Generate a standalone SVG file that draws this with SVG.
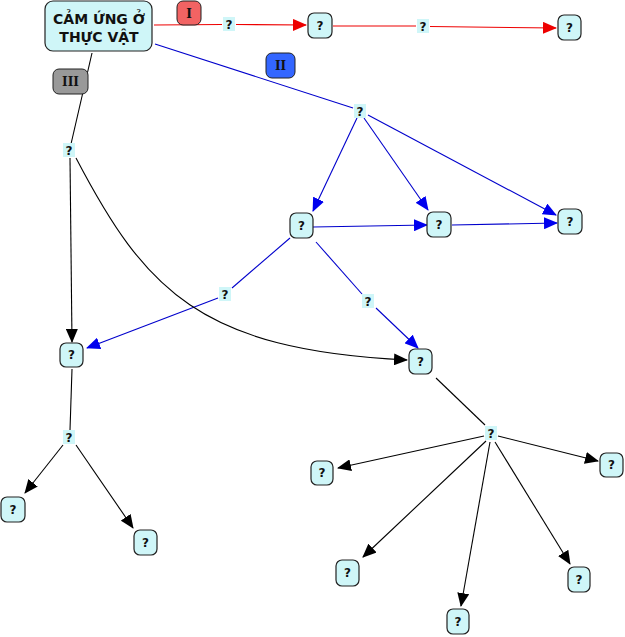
<svg xmlns="http://www.w3.org/2000/svg" width="625" height="637" viewBox="0 0 625 637">
<defs>
<marker id="ak" markerUnits="userSpaceOnUse" markerWidth="14" markerHeight="12" viewBox="0 0 14 12" refX="13" refY="6" orient="auto"><path d="M0,0 L14,6 L0,12 z" fill="#000"/></marker>
<marker id="ab" markerUnits="userSpaceOnUse" markerWidth="14" markerHeight="12" viewBox="0 0 14 12" refX="13" refY="6" orient="auto"><path d="M0,0 L14,6 L0,12 z" fill="#0000ee"/></marker>
<marker id="ar" markerUnits="userSpaceOnUse" markerWidth="14" markerHeight="12" viewBox="0 0 14 12" refX="13" refY="6" orient="auto"><path d="M0,0 L14,6 L0,12 z" fill="#ee0000"/></marker>
</defs>
<style>
.n{fill:#cff6f8;stroke:#222;stroke-width:1.2}
.t{font-family:"DejaVu Sans",sans-serif;font-weight:bold;font-size:12px;fill:#111;text-anchor:middle}
.lb{fill:#cff6f8}
.lt{font-family:"DejaVu Sans",sans-serif;font-weight:bold;font-size:12px;fill:#111;text-anchor:middle}
.k{stroke:#000;stroke-width:1.1;fill:none}
.b{stroke:#0000cc;stroke-width:1.1;fill:none}
.r{stroke:#ee0000;stroke-width:1.1;fill:none}
.rt{font-family:"DejaVu Serif",serif;font-weight:bold;font-size:12px;fill:#111;text-anchor:middle}
</style>
<g id="connectors">
<line class="r" x1="154" y1="25" x2="222" y2="24.5"/>
<line class="r" x1="236" y1="24.5" x2="306" y2="25" marker-end="url(#ar)"/>
<line class="r" x1="333" y1="26" x2="416" y2="26"/>
<line class="r" x1="430" y1="26.5" x2="556" y2="28" marker-end="url(#ar)"/>
<line class="b" x1="155" y1="44" x2="353" y2="108"/>
<line class="b" x1="357" y1="118" x2="313" y2="211" marker-end="url(#ab)"/>
<line class="b" x1="364" y1="118" x2="428" y2="210" marker-end="url(#ab)"/>
<line class="b" x1="368" y1="115" x2="556" y2="215" marker-end="url(#ab)"/>
<line class="b" x1="313" y1="227" x2="427" y2="225" marker-end="url(#ab)"/>
<line class="b" x1="452" y1="225" x2="557" y2="223" marker-end="url(#ab)"/>
<line class="b" x1="290" y1="238" x2="232" y2="288"/>
<line class="b" x1="218" y1="298" x2="87" y2="348" marker-end="url(#ab)"/>
<line class="b" x1="316" y1="242" x2="362" y2="294"/>
<line class="b" x1="376" y1="308" x2="418" y2="348" marker-end="url(#ab)"/>
<line class="k" x1="92" y1="53" x2="71" y2="144"/>
<line class="k" x1="70" y1="158" x2="72" y2="342" marker-end="url(#ak)"/>
<path class="k" d="M76,158 C145,290 200,350 407,360" marker-end="url(#ak)"/>
<line class="k" x1="72" y1="369" x2="70" y2="430"/>
<line class="k" x1="63" y1="445" x2="25" y2="493" marker-end="url(#ak)"/>
<line class="k" x1="76" y1="445" x2="133" y2="528" marker-end="url(#ak)"/>
<line class="k" x1="436" y1="378" x2="485" y2="425"/>
<line class="k" x1="484" y1="436" x2="338" y2="468" marker-end="url(#ak)"/>
<line class="k" x1="498" y1="436" x2="598" y2="461" marker-end="url(#ak)"/>
<line class="k" x1="486" y1="441" x2="363" y2="557" marker-end="url(#ak)"/>
<line class="k" x1="490" y1="442" x2="461" y2="606" marker-end="url(#ak)"/>
<line class="k" x1="495" y1="442" x2="570" y2="564" marker-end="url(#ak)"/>
</g>
<g id="labels">
<rect class="lb" x="223" y="17" width="12" height="14"/><text class="lt" x="229" y="28.5">?</text>
<rect class="lb" x="417" y="19" width="12" height="14"/><text class="lt" x="423" y="30.5">?</text>
<rect class="lb" x="354" y="104" width="12" height="14"/><text class="lt" x="360" y="115.5">?</text>
<rect class="lb" x="63" y="143" width="12" height="14"/><text class="lt" x="69" y="154.5">?</text>
<rect class="lb" x="219" y="287" width="12" height="14"/><text class="lt" x="225" y="298.5">?</text>
<rect class="lb" x="362" y="294" width="12" height="14"/><text class="lt" x="368" y="305.5">?</text>
<rect class="lb" x="63" y="430" width="12" height="14"/><text class="lt" x="69" y="441.5">?</text>
<rect class="lb" x="485" y="426" width="12" height="14"/><text class="lt" x="491" y="437.5">?</text>
</g>
<g id="tag-I"><rect x="177" y="1" width="24" height="24" rx="6" fill="#f26363" stroke="#222" stroke-width="1"/><text class="rt" x="189" y="17.5">I</text></g>
<g id="tag-II"><rect x="266" y="53" width="29" height="25" rx="6" fill="#3366ff" stroke="#222" stroke-width="1"/><text class="rt" x="280.5" y="70">II</text></g>
<g id="tag-III"><rect x="53" y="69" width="35" height="25" rx="6" fill="#999999" stroke="#222" stroke-width="1"/><text class="rt" x="70.5" y="86">III</text></g>
<g id="main"><rect class="n" x="45" y="1" width="107" height="50" rx="8"/><text class="t" style="font-size:14px" x="99" y="24">CẢM ỨNG Ở</text><text class="t" style="font-size:14px" x="99" y="42">THỰC VẬT</text></g>
<g id="n1"><rect class="n" x="308" y="13" width="24" height="25" rx="6"/><text class="t" x="320" y="30">?</text></g>
<g id="n2"><rect class="n" x="558" y="15" width="23" height="25" rx="6"/><text class="t" x="569.5" y="32">?</text></g>
<g id="n3"><rect class="n" x="290" y="213" width="23" height="25" rx="6"/><text class="t" x="301.5" y="230">?</text></g>
<g id="n4"><rect class="n" x="427" y="212" width="24" height="25" rx="6"/><text class="t" x="439" y="229">?</text></g>
<g id="n5"><rect class="n" x="558" y="209" width="24" height="25" rx="6"/><text class="t" x="570" y="226">?</text></g>
<g id="n6"><rect class="n" x="60" y="343" width="23" height="24" rx="6"/><text class="t" x="71.5" y="359">?</text></g>
<g id="n7"><rect class="n" x="409" y="349" width="23" height="25" rx="6"/><text class="t" x="420.5" y="366">?</text></g>
<g id="n8"><rect class="n" x="1" y="497" width="24" height="25" rx="6"/><text class="t" x="13" y="514">?</text></g>
<g id="n9"><rect class="n" x="134" y="530" width="23" height="25" rx="6"/><text class="t" x="145.5" y="547">?</text></g>
<g id="n10"><rect class="n" x="311" y="461" width="22" height="24" rx="6"/><text class="t" x="322" y="477">?</text></g>
<g id="n11"><rect class="n" x="600" y="453" width="23" height="24" rx="6"/><text class="t" x="611.5" y="469">?</text></g>
<g id="n12"><rect class="n" x="336" y="560" width="23" height="26" rx="6"/><text class="t" x="347.5" y="577">?</text></g>
<g id="n13"><rect class="n" x="447" y="609" width="22" height="25" rx="6"/><text class="t" x="458" y="626">?</text></g>
<g id="n14"><rect class="n" x="568" y="567" width="22" height="25" rx="6"/><text class="t" x="579" y="584">?</text></g>
</svg>
